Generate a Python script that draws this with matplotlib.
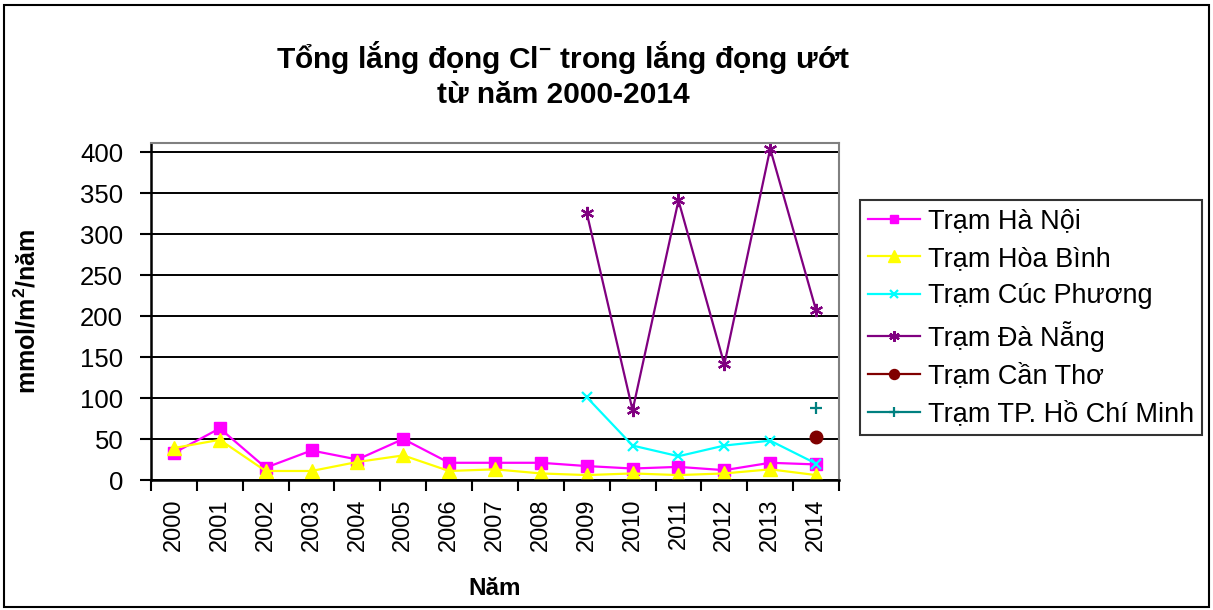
import numpy as np
import matplotlib.pyplot as plt
from matplotlib.patches import Rectangle

plt.rcParams['font.family'] = ['Liberation Sans', 'DejaVu Sans']
plt.rcParams['mathtext.fontset'] = 'custom'
plt.rcParams['mathtext.rm'] = 'Liberation Sans'
plt.rcParams['mathtext.bf'] = 'Liberation Sans:bold'

years = [str(y) for y in range(2000, 2015)]
nan = np.nan

ha_noi = [33, 63, 15, 36, 25, 50, 21, 21, 21, 17, 14, 16, 12, 21, 19]
hoa_binh = [39, 49, 11, 11, 22, 30, 11, 13, 8, 6, 8, 6, 8, 13, 6]
cuc_phuong = [nan] * 9 + [101, 42, 29, 42, 48, 20]
da_nang = [nan] * 9 + [326, 85, 341, 141, 404, 207]
can_tho = [nan] * 14 + [53]
hcm = [nan] * 14 + [88]

labels = ['Trạm Hà Nội', 'Trạm Hòa Bình', 'Trạm Cúc Phương',
          'Trạm Đà Nẵng', 'Trạm Cần Thơ', 'Trạm TP. Hồ Chí Minh']

fig = plt.figure(figsize=(12.13, 6.10), dpi=100)
ax = fig.add_axes([151 / 1213, 1 - 480 / 610, 688 / 1213, 337 / 610])

x = np.arange(len(years))
ax.plot(x, ha_noi, color='#FF00FF', lw=1.6, marker='s', ms=8, label=labels[0])
ax.plot(x, hoa_binh, color='#FFFF00', lw=1.6, marker='^', ms=10.5, label=labels[1])
ax.plot(x, cuc_phuong, color='#00FFFF', lw=1.6, marker='x', ms=7.5, mew=1.6, label=labels[2])
ax.plot(x, da_nang, color='#800080', lw=1.6, marker=(6, 2, 0), ms=9.5, mew=1.6, label=labels[3])
ax.plot(x, can_tho, color='#800000', lw=1.6, marker='o', ms=9, label=labels[4])
ax.plot(x, hcm, color='#008080', lw=1.6, marker='+', ms=9, mew=1.6, label=labels[5])

ax.set_xlim(-0.5, 14.5)
ax.set_ylim(0, 411)
ax.set_yticks(range(0, 401, 50))
ax.yaxis.grid(True, color='black', lw=1.4)
ax.set_axisbelow(True)

ax.set_xticks(np.arange(-0.5, 15, 1))
ax.set_xticklabels([])
ax.set_xticks(x, minor=True)
ax.set_xticklabels(years, minor=True, rotation=90, fontsize=17)
ax.tick_params(axis='x', which='minor', length=0, pad=13)
ax.tick_params(axis='x', which='major', length=8, width=1.5, direction='out')
ax.tick_params(axis='y', length=8, width=1.5, direction='out', labelsize=18.5, pad=12)

for s in ['left', 'bottom']:
    ax.spines[s].set_color('black')
    ax.spines[s].set_linewidth(1.8)
for s in ['top', 'right']:
    ax.spines[s].set_color('#808080')
    ax.spines[s].set_linewidth(1.5)

ax.set_xlabel('Năm', fontsize=17.5, fontweight='bold')
ax.xaxis.set_label_coords(0.5, (480 - 577) / 337)
ax.set_ylabel('mmol/m$^{\\mathbf{2}}$/năm', fontsize=18, fontweight='bold')
ax.yaxis.set_label_coords((40 - 151) / 688, 0.5)

fig.text(563 / 1213, 1 - 74 / 610,
         'Tổng lắng đọng Cl$^{\\mathbf{-}}$ trong lắng đọng ướt\ntừ năm 2000-2014',
         ha='center', va='center', fontsize=21.5, fontweight='bold', linespacing=1.25)

leg = ax.legend(loc='upper left', bbox_to_anchor=(860 / 1213, 1 - 200 / 610),
                bbox_transform=fig.transFigure, borderaxespad=0, fontsize=19.5,
                frameon=True, fancybox=False, edgecolor='black', markerscale=0.8,
                handlelength=1.9, handletextpad=0.3, labelspacing=0.43,
                borderpad=0.3)
leg.get_frame().set_linewidth(1.5)

fig.patches.append(Rectangle((4 / 1213, 3 / 610), 1205 / 1213, 602 / 610,
                             transform=fig.transFigure, fill=False,
                             edgecolor='black', lw=1.5))

fig.savefig('out.png', dpi=100)
